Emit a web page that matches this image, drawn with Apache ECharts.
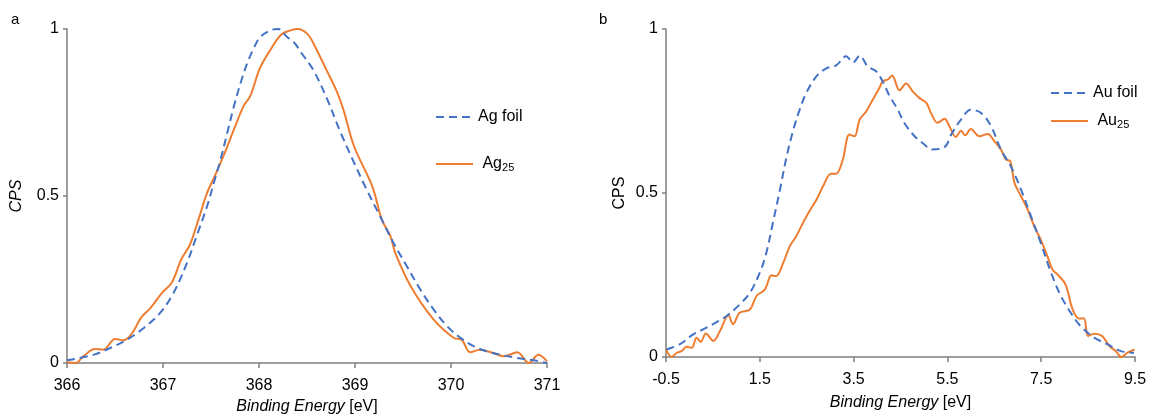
<!DOCTYPE html>
<html><head><meta charset="utf-8">
<script src="https://cdn.jsdelivr.net/npm/echarts@6/dist/echarts.min.js"></script>
<style>html,body{margin:0;padding:0;background:#fff}#c{width:1150px;height:414px}</style>
</head><body><div id="c"></div>
<script>
// Panel a: Ag 3d
const agFoilE = [366.0,366.28,366.45,366.625,366.8,366.97,367.11,367.25,367.35,367.46,367.53,367.6,367.67,367.74,367.81,367.88,367.95,368.01,368.12,368.2,368.29,368.37,368.45,368.57,368.71,368.85,368.99,369.12,369.26,369.40,369.54,369.68,369.82,369.96,370.1,370.24,370.37,370.51,370.69,370.86,371.0];
const agFoilV = [0.008,0.025,0.045,0.07,0.105,0.15,0.21,0.30,0.38,0.47,0.54,0.61,0.69,0.77,0.84,0.90,0.945,0.975,0.996,1.0,0.977,0.958,0.925,0.875,0.79,0.69,0.60,0.52,0.44,0.36,0.29,0.22,0.16,0.11,0.075,0.05,0.035,0.025,0.015,0.008,0.0];
const ag25E = [366.0,366.09,366.17,366.29,366.38,366.5,366.59,366.68,366.77,366.87,366.99,367.09,367.19,367.28,367.37,367.46,367.54,367.63,367.74,367.84,367.91,368.01,368.12,368.23,368.33,368.40,368.51,368.60,368.71,368.81,368.88,368.99,369.18,369.28,369.37,369.42,369.58,369.82,370.03,370.11,370.2,370.3,370.44,370.55,370.69,370.81,370.91,371.0];
const ag25V = [0.002,0.0,0.02,0.042,0.04,0.072,0.068,0.09,0.135,0.165,0.21,0.24,0.31,0.354,0.43,0.51,0.56,0.62,0.70,0.77,0.80,0.883,0.938,0.983,0.996,1.0,0.983,0.938,0.873,0.813,0.758,0.649,0.529,0.429,0.379,0.329,0.23,0.13,0.075,0.07,0.032,0.04,0.03,0.02,0.032,0.0,0.025,0.005];
// Panel b: valence band
const auFoilE = [-0.49,-0.2,0.08,0.29,0.5,0.79,1.07,1.29,1.5,1.64,1.78,1.93,2.07,2.21,2.35,2.49,2.71,2.92,3.13,3.34,3.49,3.63,3.8,3.98,4.12,4.27,4.44,4.58,4.8,5.01,5.15,5.44,5.58,5.79,6.0,6.22,6.43,6.64,6.85,7.07,7.28,7.49,7.71,7.92,8.13,8.34,8.63,8.91,9.2,9.48];
const auFoilV = [0.023,0.039,0.069,0.084,0.10,0.125,0.16,0.196,0.257,0.318,0.41,0.51,0.61,0.69,0.754,0.805,0.856,0.88,0.889,0.917,0.898,0.919,0.886,0.871,0.84,0.795,0.755,0.714,0.673,0.648,0.633,0.64,0.678,0.724,0.754,0.744,0.704,0.633,0.582,0.51,0.43,0.348,0.257,0.186,0.135,0.094,0.059,0.039,0.018,0.013];
const au25E = [-0.5,-0.38,-0.27,-0.17,-0.06,0.05,0.15,0.24,0.35,0.51,0.65,0.83,0.93,1.07,1.29,1.43,1.61,1.75,1.85,2.0,2.14,2.28,2.42,2.56,2.71,2.85,3.02,3.13,3.27,3.41,3.52,3.63,3.77,3.91,4.05,4.12,4.23,4.32,4.48,4.62,4.76,4.9,5.05,5.15,5.29,5.44,5.54,5.68,5.79,5.88,6.0,6.18,6.36,6.5,6.64,6.75,6.84,6.93,7.07,7.21,7.35,7.49,7.63,7.74,7.88,8.02,8.17,8.31,8.41,8.5,8.63,8.8,8.95,9.09,9.21,9.34,9.49];
const au25V = [0.023,0.0,0.013,0.018,0.031,0.028,0.059,0.046,0.072,0.049,0.079,0.127,0.10,0.135,0.145,0.186,0.206,0.249,0.247,0.287,0.338,0.369,0.409,0.445,0.48,0.521,0.559,0.559,0.602,0.678,0.673,0.724,0.749,0.785,0.82,0.84,0.846,0.858,0.813,0.834,0.81,0.79,0.775,0.744,0.714,0.726,0.704,0.671,0.69,0.676,0.695,0.673,0.68,0.658,0.633,0.602,0.597,0.531,0.49,0.45,0.399,0.358,0.308,0.267,0.247,0.221,0.145,0.117,0.118,0.064,0.071,0.064,0.034,0.018,0.0,0.013,0.023];
const agXTicks = {min:366, max:371, interval:1};
const auXTicks = {min:-0.5, max:9.5, interval:2};
const yTicks = {min:0, max:1, interval:0.5};

const zip = (a,b) => a.map((x,i)=>[x,b[i]]);
const BLUE = '#4472C4', ORANGE = '#ED7D31', AX = '#7f7f7f';
const FONT = 'Liberation Sans, Arial, sans-serif';

function xAxis(idx, t, gap, margin){
  return {gridIndex:idx, type:'value', min:t.min, max:t.max, interval:t.interval,
    axisLine:{onZero:false,lineStyle:{color:AX,width:1.5}}, axisTick:{length:5,lineStyle:{color:AX,width:1.5}},
    splitLine:{show:false},
    axisLabel:{color:'#000',fontSize:16,fontFamily:FONT,margin:margin},
    name:'{i|Binding Energy} [eV]', nameLocation:'middle', nameGap:gap,
    nameTextStyle:{color:'#000',fontSize:16,fontFamily:FONT,rich:{i:{fontStyle:'italic',fontSize:16,fontFamily:FONT,color:'#000'}}}};
}
function yAxis(idx, gap, italic){
  return {gridIndex:idx, type:'value', min:yTicks.min, max:yTicks.max, interval:yTicks.interval,
    axisLine:{show:true,onZero:false,lineStyle:{color:AX,width:1.5}}, axisTick:{show:true,length:4,lineStyle:{color:AX,width:1.5}},
    splitLine:{show:false},
    axisLabel:{color:'#000',fontSize:16,fontFamily:FONT,margin:8},
    name:'CPS', nameLocation:'middle', nameGap:gap,
    nameTextStyle:{color:'#000',fontSize:16,fontFamily:FONT,fontStyle: italic?'italic':'normal'}};
}
function line(name, xi, e, v, color, dashed){
  return {name, type:'line', xAxisIndex:xi, yAxisIndex:xi, data:zip(e,v), smooth:0.35,
    symbol:'none', lineStyle:{color, width:2, type: dashed?[8,5]:'solid'}, itemStyle:{color}, z: dashed?3:2};
}
const legendFmt = n => {
  const m = n.match(/^(A[gu])25$/);
  return m ? ' {b|'+m[1]+'}{s|25}' : n;
};
const legendRich = {b:{fontSize:16,fontFamily:FONT,color:'#000'}, s:{fontSize:11,fontFamily:FONT,color:'#000',padding:[8,0,0,0]}};
const legendBase = {orient:'vertical', padding:0, itemWidth:37, itemHeight:14,
  itemStyle:{opacity:0}, formatter:legendFmt,
  textStyle:{color:'#000',fontSize:16,fontFamily:FONT,rich:legendRich}};

const chart = echarts.init(document.getElementById('c'), null, {renderer:'canvas'});
chart.setOption({
  animation:false,
  grid:[{left:67,right:603,top:29,bottom:51,outerBoundsMode:'none',containLabel:false},
        {left:666,right:15,top:29,bottom:57,outerBoundsMode:'none',containLabel:false}],
  xAxis:[xAxis(0,agXTicks,34,15), xAxis(1,auXTicks,38,15)],
  yAxis:[yAxis(0,42,true), yAxis(1,38,false)],
  legend:[
    Object.assign({}, legendBase, {data:['Ag foil','Ag25'], left:435, top:109, itemGap:31}),
    Object.assign({}, legendBase, {data:['Au foil','Au25'], left:1050, top:85, itemGap:12})
  ],
  graphic:[
    {type:'text', left:11, top:12, style:{text:'a', fontSize:15, fontFamily:FONT, fill:'#000'}},
    {type:'text', left:599, top:12, style:{text:'b', fontSize:15, fontFamily:FONT, fill:'#000'}}
  ],
  series:[
    line('Ag25',0,ag25E,ag25V,ORANGE,false),
    line('Ag foil',0,agFoilE,agFoilV,BLUE,true),
    line('Au25',1,au25E,au25V,ORANGE,false),
    line('Au foil',1,auFoilE,auFoilV,BLUE,true)
  ]
});
</script></body></html>
